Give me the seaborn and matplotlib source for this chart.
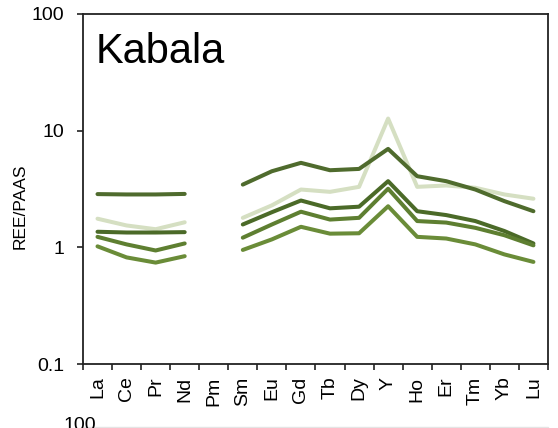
import numpy as np
import pandas as pd
import matplotlib
matplotlib.use("Agg")
import matplotlib.pyplot as plt
import seaborn as sns
from matplotlib.lines import Line2D
from matplotlib.ticker import FixedLocator, NullLocator

# Rare earth elements (+Y) in plotting order
elements = ["La", "Ce", "Pr", "Nd", "Pm", "Sm", "Eu", "Gd", "Tb", "Dy",
            "Y", "Ho", "Er", "Tm", "Yb", "Lu"]

# PAAS-normalised concentrations (Pm not measured)
nan = np.nan
k1 = [2.86, 2.84, 2.84, 2.87, nan, 3.45, 4.49, 5.30, 4.58, 4.70, 6.98, 4.07, 3.69, 3.13, 2.49, 2.04]
k2 = [1.76, 1.54, 1.43, 1.64, nan, 1.79, 2.29, 3.13, 2.99, 3.30, 12.7, 3.30, 3.39, 3.24, 2.84, 2.61]
k3 = [1.36, 1.34, 1.34, 1.35, nan, 1.57, 2.00, 2.52, 2.16, 2.23, 3.69, 2.04, 1.89, 1.68, 1.38, 1.08]
k4 = [1.23, 1.06, 0.94, 1.08, nan, 1.21, 1.57, 2.02, 1.73, 1.79, 3.18, 1.68, 1.63, 1.47, 1.27, 1.04]
k5 = [1.02, 0.82, 0.74, 0.84, nan, 0.95, 1.17, 1.50, 1.31, 1.32, 2.25, 1.23, 1.19, 1.06, 0.87, 0.75]

samples = {"K2": k2, "K1": k1, "K3": k3, "K4": k4, "K5": k5}
palette = {"K2": "#d5dfc2", "K1": "#4f6b2d", "K3": "#4b6a28",
           "K4": "#5e7f31", "K5": "#6a8c38"}

yticks = [0.1, 1, 10, 100]
ytick_labels = ["0.1", "1", "10", "100"]

rows = []
for name, vals in samples.items():
    for i, (el, v) in enumerate(zip(elements, vals)):
        if np.isnan(v):
            continue
        rows.append({"sample": name, "pos": i, "element": el, "value": v,
                     "segment": "LREE" if i < 4 else "MHREE"})
df = pd.DataFrame(rows)

sns.set_style("ticks")
plt.rcParams["font.family"] = ["Liberation Sans", "DejaVu Sans"]
plt.rcParams["text.color"] = "black"
plt.rcParams["xtick.color"] = "black"
plt.rcParams["ytick.color"] = "black"
plt.rcParams["axes.labelcolor"] = "black"

fig = plt.figure(figsize=(5.58, 4.28), dpi=100)
ax = fig.add_axes([0.1487, 0.1495, 0.8333, 0.8178])

sns.lineplot(data=df, x="pos", y="value", hue="sample", units="segment",
             estimator=None, palette=palette, hue_order=list(samples.keys()),
             linewidth=2.9, legend=False, ax=ax, sort=False)

ax.set_yscale("log")
ax.set_ylim(0.1, 100)
ax.yaxis.set_major_locator(FixedLocator(yticks))
ax.set_yticklabels(ytick_labels)
ax.yaxis.set_minor_locator(NullLocator())

ax.set_xlim(-0.5, len(elements) - 0.5)
ax.set_xticks(range(len(elements)))
ax.set_xticklabels(elements, rotation=90)
ax.xaxis.set_minor_locator(FixedLocator(np.arange(-0.5, len(elements), 1.0)))

ax.tick_params(axis="x", which="major", length=0, pad=9, labelsize=14)
ax.tick_params(axis="x", which="minor", length=4.5, width=1.2, color="#222222")
ax.tick_params(axis="y", which="major", length=4.5, width=1.2, pad=9,
               labelsize=14, color="#222222")

for s in ax.spines.values():
    s.set_visible(True)
    s.set_linewidth(1.3)
    s.set_color("#222222")

ax.set_xlabel("")
ax.set_ylabel("REE/PAAS", fontsize=12.5)
ax.yaxis.set_label_coords(-0.118, 0.45)

ax.text(0.028, 0.948, "Kabala", transform=ax.transAxes, fontsize=30,
        ha="left", va="top")

# top of the next panel, cut by the figure edge
fig.text(0.173, -0.013, "100", fontsize=14, ha="right", va="bottom")
fig.add_artist(Line2D([0.1487, 0.982], [0.002, 0.002], color="#e4e4e4",
                      linewidth=1.0, transform=fig.transFigure))

fig.savefig("out.png", dpi=100)
